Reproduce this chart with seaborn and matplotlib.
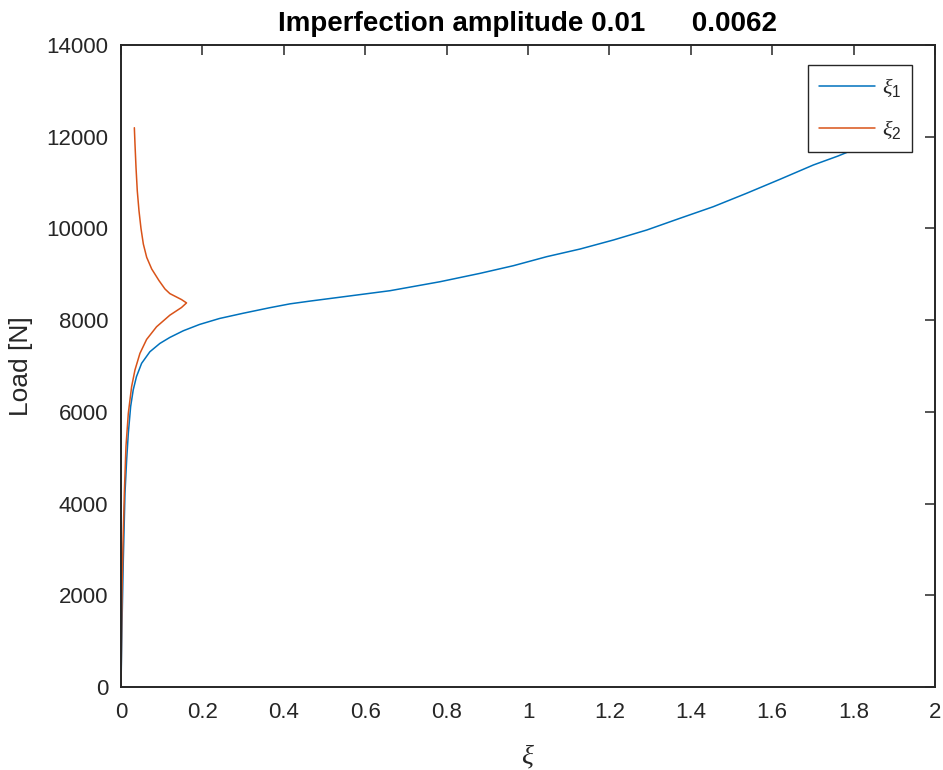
import numpy as np
import pandas as pd
import matplotlib
matplotlib.use("Agg")
import matplotlib.pyplot as plt
import seaborn as sns

# ---- data ----
xi1_x = [0.0, 0.0024, 0.0057, 0.0098, 0.0139, 0.018, 0.0237, 0.030, 0.038,
         0.0506, 0.071, 0.0955, 0.120, 0.153, 0.193, 0.242, 0.300, 0.365,
         0.415, 0.464, 0.538, 0.661, 0.784, 0.882, 0.964, 1.046, 1.128,
         1.21, 1.292, 1.373, 1.455, 1.537, 1.619, 1.701, 1.762, 1.85, 1.92]
xi1_load = [0, 1333, 2783, 4232, 4956, 5536, 6116, 6478, 6768,
            7058, 7311, 7492, 7623, 7768, 7906, 8036, 8150, 8270,
            8355, 8415, 8500, 8642, 8838, 9020, 9187, 9384, 9551,
            9748, 9966, 10220, 10473, 10766, 11071, 11383, 11580, 11900, 12200]

xi2_x = [0.0, 0.0008, 0.0024, 0.0049, 0.0082, 0.0122, 0.018, 0.0261, 0.0343,
         0.0465, 0.0629, 0.0873, 0.120, 0.1486, 0.161, 0.1486, 0.120, 0.108,
         0.0934, 0.0754, 0.0631, 0.0549, 0.0491, 0.0442, 0.040, 0.0369,
         0.0344, 0.0328]
xi2_load = [0, 609, 2058, 3145, 4232, 5246, 5971, 6550, 6913,
            7275, 7579, 7855, 8108, 8275, 8376, 8449, 8579, 8680,
            8862, 9116, 9370, 9659, 10000, 10384, 10819, 11326,
            11833, 12196]

series_names = [r"$\xi_1$", r"$\xi_2$"]
title_text = "Imperfection amplitude 0.01      0.0062"
x_ticks = [0, 0.2, 0.4, 0.6, 0.8, 1, 1.2, 1.4, 1.6, 1.8, 2]
x_tick_labels = ["0", "0.2", "0.4", "0.6", "0.8", "1", "1.2", "1.4", "1.6", "1.8", "2"]
y_ticks = [0, 2000, 4000, 6000, 8000, 10000, 12000, 14000]

df = pd.concat([
    pd.DataFrame({"xi": xi1_x, "load": xi1_load, "series": series_names[0]}),
    pd.DataFrame({"xi": xi2_x, "load": xi2_load, "series": series_names[1]}),
], ignore_index=True)

sns.set_theme(style="white")
plt.rcParams["font.family"] = ["Liberation Sans", "DejaVu Sans"]
plt.rcParams["mathtext.fontset"] = "custom"
plt.rcParams["mathtext.it"] = "Liberation Serif:italic"
plt.rcParams["mathtext.rm"] = "Liberation Sans"

fig = plt.figure(figsize=(9.43, 7.70), dpi=100)
ax = fig.add_axes([121 / 943, 1 - 687 / 770, (935 - 121) / 943, (687 - 45) / 770])

sns.lineplot(data=df, x="xi", y="load", hue="series", sort=False, estimator=None,
             palette=["#0072BD", "#D95319"], linewidth=1.1, ax=ax, zorder=2)

ax.set_xlim(0, 2)
ax.set_ylim(0, 14000)
ax.set_xticks(x_ticks)
ax.set_xticklabels(x_tick_labels)
ax.set_yticks(y_ticks)

for sp in ax.spines.values():
    sp.set_color("#262626")
    sp.set_linewidth(1.4)
ax.tick_params(axis="both", which="both", direction="in", length=7, width=1.1,
               color="#262626", labelcolor="#262626", labelsize=16,
               top=True, right=True)
ax.tick_params(axis="x", pad=11)
ax.tick_params(axis="y", pad=9)

ax.set_xlabel(r"$\xi$", fontsize=20, color="#262626", labelpad=14)
ax.set_ylabel("Load [N]", fontsize=19, color="#262626", labelpad=10)
ax.set_title(title_text, fontsize=20, fontweight="bold", color="black", pad=10)

leg = ax.legend(loc="upper right", bbox_to_anchor=(0.972, 0.969), fontsize=16,
                frameon=True, fancybox=False, edgecolor="#262626", framealpha=1,
                facecolor="white",
                handlelength=2.5, borderpad=0.5, labelspacing=0.85,
                handletextpad=0.3, borderaxespad=0)
leg.set_zorder(10)
leg.get_frame().set_linewidth(1.0)
for line in leg.get_lines():
    line.set_linewidth(1.1)

fig.savefig("out.png", dpi=100)
